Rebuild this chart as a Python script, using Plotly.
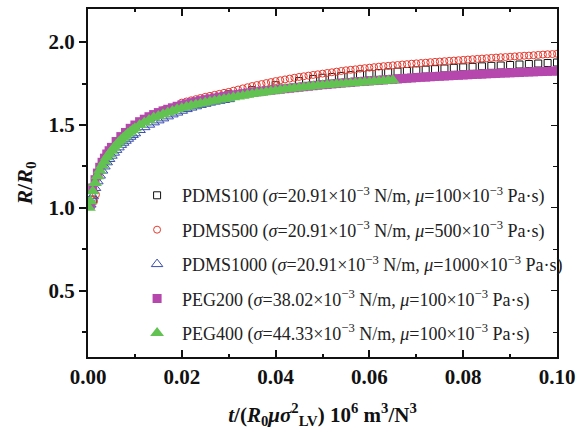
import plotly.graph_objects as go

# ---------------- data ----------------
series_names = [
    "PDMS100 (<i>σ</i>=20.91×10<sup>−3</sup> N/m, <i>μ</i>=100×10<sup>−3</sup> Pa·s)",
    "PDMS500 (<i>σ</i>=20.91×10<sup>−3</sup> N/m, <i>μ</i>=500×10<sup>−3</sup> Pa·s)",
    "PDMS1000 (<i>σ</i>=20.91×10<sup>−3</sup> N/m, <i>μ</i>=1000×10<sup>−3</sup> Pa·s)",
    "PEG200 (<i>σ</i>=38.02×10<sup>−3</sup> N/m, <i>μ</i>=100×10<sup>−3</sup> Pa·s)",
    "PEG400 (<i>σ</i>=44.33×10<sup>−3</sup> N/m, <i>μ</i>=100×10<sup>−3</sup> Pa·s)",
]

pdms100_t = [0.001, 0.003, 0.006, 0.010, 0.015, 0.020, 0.025, 0.030, 0.035, 0.040, 0.045,
             0.048, 0.050, 0.052, 0.054, 0.056, 0.058, 0.060, 0.062, 0.064, 0.066, 0.068,
             0.070, 0.072, 0.074, 0.076, 0.078, 0.080, 0.082, 0.084, 0.086, 0.088, 0.090,
             0.092, 0.094, 0.096, 0.098, 0.100]
pdms100_r = [1.05, 1.27, 1.40, 1.49, 1.56, 1.61, 1.65, 1.685, 1.71, 1.74, 1.765,
             1.778, 1.785, 1.790, 1.796, 1.801, 1.806, 1.810, 1.814, 1.818, 1.822, 1.826,
             1.830, 1.834, 1.837, 1.841, 1.845, 1.848, 1.851, 1.854, 1.857, 1.859, 1.862,
             1.865, 1.868, 1.871, 1.874, 1.877]

pdms500_t = [0.0013, 0.0017, 0.0023, 0.004, 0.007, 0.010, 0.013, 0.016,
             0.020, 0.021, 0.022, 0.023, 0.024, 0.025, 0.026, 0.027, 0.028, 0.029,
             0.030, 0.031, 0.032, 0.033, 0.034, 0.035, 0.036, 0.037, 0.038, 0.039,
             0.040, 0.041, 0.042, 0.043, 0.044, 0.045, 0.046, 0.047, 0.048, 0.049,
             0.050, 0.051, 0.052, 0.053, 0.054, 0.055, 0.056, 0.057, 0.058, 0.059,
             0.060, 0.061, 0.062, 0.063, 0.064, 0.065, 0.066, 0.067, 0.068, 0.069,
             0.070, 0.071, 0.072, 0.073, 0.074, 0.075, 0.076, 0.077, 0.078, 0.079,
             0.080, 0.081, 0.082, 0.083, 0.084, 0.085, 0.086, 0.087, 0.088, 0.089,
             0.090, 0.091, 0.092, 0.093, 0.094, 0.095, 0.096, 0.097, 0.098, 0.099, 0.100]
pdms500_r = [1.04, 1.08, 1.19, 1.33, 1.43, 1.50, 1.55, 1.59,
             1.635, 1.642, 1.649, 1.656, 1.663, 1.670, 1.676, 1.682, 1.688, 1.694,
             1.700, 1.707, 1.714, 1.721, 1.728, 1.735, 1.741, 1.747, 1.753, 1.759,
             1.765, 1.770, 1.775, 1.780, 1.785, 1.790, 1.794, 1.798, 1.802, 1.806,
             1.810, 1.814, 1.818, 1.822, 1.826, 1.830, 1.833, 1.836, 1.840, 1.843,
             1.846, 1.849, 1.852, 1.855, 1.857, 1.860, 1.862, 1.865, 1.867, 1.870,
             1.872, 1.874, 1.876, 1.879, 1.881, 1.883, 1.885, 1.887, 1.889, 1.891,
             1.893, 1.895, 1.897, 1.899, 1.901, 1.903, 1.905, 1.907, 1.909, 1.910,
             1.912, 1.914, 1.916, 1.918, 1.919, 1.921, 1.923, 1.925, 1.927, 1.928, 1.930]

pdms1000_t = [0.0005, 0.001, 0.0015, 0.002, 0.0025, 0.003, 0.0035, 0.004, 0.0045, 0.005,
              0.0055, 0.006, 0.0065, 0.007, 0.0075, 0.008, 0.0085, 0.009, 0.0095, 0.010,
              0.011, 0.012, 0.013, 0.014, 0.015, 0.016, 0.017, 0.018, 0.019, 0.020,
              0.021, 0.022, 0.023, 0.024, 0.025, 0.026, 0.027, 0.028, 0.029, 0.030]
pdms1000_r = [1.02, 1.07, 1.12, 1.16, 1.195, 1.225, 1.25, 1.275, 1.295, 1.315,
              1.333, 1.35, 1.365, 1.38, 1.393, 1.405, 1.417, 1.429, 1.44, 1.45,
              1.47, 1.487, 1.502, 1.516, 1.528, 1.54, 1.552, 1.564, 1.575, 1.586,
              1.596, 1.605, 1.613, 1.621, 1.628, 1.635, 1.641, 1.646, 1.651, 1.656]

peg200_t = [0.0005, 0.001, 0.0015, 0.002, 0.0025, 0.003, 0.0035, 0.004, 0.0045, 0.005,
            0.006, 0.007, 0.008, 0.009, 0.010, 0.011, 0.012, 0.013, 0.014, 0.015,
            0.016, 0.017, 0.018, 0.019, 0.020, 0.021, 0.022, 0.023, 0.024, 0.025,
            0.026, 0.027, 0.028, 0.029, 0.030, 0.031, 0.032, 0.033, 0.034, 0.035,
            0.036, 0.037, 0.038, 0.039, 0.040, 0.041, 0.042, 0.043, 0.044, 0.045,
            0.046, 0.047, 0.048, 0.049, 0.050, 0.051, 0.052, 0.053, 0.054, 0.055,
            0.056, 0.057, 0.058, 0.059, 0.060, 0.061, 0.062, 0.063, 0.064, 0.065,
            0.066, 0.067, 0.068, 0.069, 0.070, 0.071, 0.072, 0.073, 0.074, 0.075,
            0.076, 0.077, 0.078, 0.079, 0.080, 0.081, 0.082, 0.083, 0.084, 0.085,
            0.086, 0.087, 0.088, 0.089, 0.090, 0.091, 0.092, 0.093, 0.094, 0.095,
            0.096, 0.097, 0.098, 0.099, 0.100]
peg200_r = [1.02, 1.12, 1.17, 1.21, 1.245, 1.275, 1.30, 1.325, 1.345, 1.365,
            1.40, 1.43, 1.455, 1.48, 1.50, 1.52, 1.535, 1.55, 1.563, 1.575,
            1.585, 1.595, 1.604, 1.613, 1.621, 1.628, 1.635, 1.641, 1.647, 1.653,
            1.658, 1.663, 1.668, 1.673, 1.677, 1.681, 1.685, 1.689, 1.693, 1.697,
            1.700, 1.704, 1.707, 1.710, 1.713, 1.716, 1.719, 1.722, 1.725, 1.728,
            1.731, 1.734, 1.737, 1.740, 1.743, 1.745, 1.748, 1.750, 1.753, 1.755,
            1.757, 1.760, 1.762, 1.764, 1.766, 1.768, 1.770, 1.772, 1.774, 1.776,
            1.778, 1.780, 1.782, 1.784, 1.786, 1.788, 1.789, 1.791, 1.793, 1.794,
            1.796, 1.797, 1.799, 1.800, 1.802, 1.803, 1.805, 1.806, 1.807, 1.809,
            1.810, 1.811, 1.813, 1.814, 1.815, 1.816, 1.817, 1.819, 1.820, 1.821,
            1.822, 1.823, 1.824, 1.825, 1.826]

peg400_t = [0.0002, 0.0005, 0.001, 0.0015, 0.002, 0.0025, 0.003, 0.0035, 0.004, 0.0045,
            0.005, 0.0055, 0.006, 0.0065, 0.007, 0.0075, 0.008, 0.0085, 0.009, 0.0095,
            0.010, 0.011, 0.012, 0.013, 0.014,
            0.015, 0.016, 0.017, 0.018, 0.019, 0.020, 0.021, 0.022, 0.023, 0.024,
            0.025, 0.026, 0.027, 0.028, 0.029, 0.030, 0.031, 0.032, 0.033, 0.034,
            0.035, 0.036, 0.037, 0.038, 0.039, 0.040, 0.041, 0.042, 0.043, 0.044,
            0.045, 0.046, 0.047, 0.048, 0.049, 0.050, 0.051, 0.052, 0.053, 0.054,
            0.055, 0.056, 0.057, 0.058, 0.059, 0.060, 0.061, 0.062, 0.063, 0.064, 0.065]
peg400_r = [1.00, 1.04, 1.10, 1.15, 1.19, 1.225, 1.255, 1.28, 1.305, 1.325,
            1.345, 1.363, 1.38, 1.396, 1.41, 1.423, 1.435, 1.448, 1.46, 1.47,
            1.48, 1.50, 1.515, 1.53, 1.545,
            1.555, 1.565, 1.575, 1.585, 1.595, 1.603, 1.610, 1.617, 1.624, 1.630,
            1.636, 1.642, 1.647, 1.652, 1.657, 1.662, 1.667, 1.672, 1.677, 1.682,
            1.687, 1.691, 1.695, 1.699, 1.703, 1.707, 1.711, 1.715, 1.719, 1.722,
            1.725, 1.728, 1.731, 1.734, 1.737, 1.740, 1.742, 1.744, 1.746, 1.748,
            1.750, 1.752, 1.754, 1.756, 1.758, 1.760, 1.762, 1.764, 1.766, 1.768, 1.770]

x_tick_vals = [0.00, 0.02, 0.04, 0.06, 0.08, 0.10]
y_tick_vals = [0.5, 1.0, 1.5, 2.0]

# ---------------- figure ----------------
FONT = "Liberation Serif"
INK = "#111111"
fig = go.Figure()

styles = [
    dict(symbol="square-open", size=7, color=INK, line=dict(width=1, color=INK)),
    dict(symbol="circle-open", size=7, color="#e53a2f", line=dict(width=1, color="#e53a2f")),
    dict(symbol="triangle-up-open", size=10, color="#3b4cb0", line=dict(width=1, color="#3b4cb0")),
    dict(symbol="square", size=9, color="#b547ad", line=dict(width=0)),
    dict(symbol="triangle-up", size=12, color="#62c252", line=dict(width=0)),
]
data = [(pdms100_t, pdms100_r), (pdms500_t, pdms500_r), (pdms1000_t, pdms1000_r),
        (peg200_t, peg200_r), (peg400_t, peg400_r)]

for i, ((tx, ry), name, st) in enumerate(zip(data, series_names, styles)):
    fig.add_trace(go.Scatter(x=tx, y=ry, mode="markers", name=name, marker=st,
                             legendgroup=f"g{i}", cliponaxis=True))

# invisible helper trace to carry the right-hand (inside-tick) axis
fig.add_trace(go.Scatter(x=[0.05], y=[1.0], yaxis="y2", mode="markers",
                         marker=dict(opacity=0), showlegend=False, hoverinfo="skip"))

fig.update_layout(
    template="none",
    width=579, height=429,
    margin=dict(l=88, r=22, t=9, b=72, autoexpand=False),
    paper_bgcolor="white", plot_bgcolor="white",
    font=dict(family=FONT, color=INK),
    showlegend=True,
    legend=dict(x=0.094, y=0.517, xanchor="left", yanchor="top",
                font=dict(family=FONT, size=18, color="#222222"),
                bgcolor="rgba(0,0,0,0)", borderwidth=0,
                traceorder="grouped", tracegroupgap=8, itemwidth=40),
    xaxis=dict(range=[0, 0.1], tickvals=x_tick_vals, tickformat=".2f", automargin=False,
               ticks="inside", ticklen=7, tickwidth=1.5, tickcolor=INK,
               minor=dict(dtick=0.01, tick0=0, ticks="inside", ticklen=3, tickcolor=INK, showgrid=False),
               showline=True, linecolor=INK, linewidth=2, mirror="ticks",
               showgrid=False, zeroline=False,
               tickfont=dict(family=FONT, size=21, color=INK, weight="bold"),
               title=dict(text="<b><i>t</i>/(<i>R</i><sub>0</sub><i>μσ</i><sup>2</sup><sub>LV</sub>) 10<sup>6</sup> m<sup>3</sup>/N<sup>3</sup></b>",
                          font=dict(family=FONT, size=21, color=INK), standoff=21)),
    yaxis=dict(range=[0.1, 2.2], tickvals=y_tick_vals, tickformat=".1f", automargin=False,
               ticks="outside", ticklen=7, tickwidth=1.5, tickcolor=INK,
               minor=dict(dtick=0.25, tick0=0, ticks="outside", ticklen=4, tickcolor=INK, showgrid=False),
               showline=True, linecolor=INK, linewidth=2, mirror=True,
               showgrid=False, zeroline=False,
               tickfont=dict(family=FONT, size=21, color=INK, weight="bold"),
               title=dict(text="<b><i>R</i>/<i>R</i><sub>0</sub></b>",
                          font=dict(family=FONT, size=22, color=INK), standoff=10)),
    yaxis2=dict(overlaying="y", side="right", range=[0.1, 2.2], tickvals=y_tick_vals,
                automargin=False, showticklabels=False, ticks="inside", ticklen=6, tickcolor=INK,
                minor=dict(dtick=0.25, tick0=0, ticks="inside", ticklen=4, tickcolor=INK, showgrid=False),
                showline=False, showgrid=False, zeroline=False),
)

fig.write_html("out.html", config={"displayModeBar": False},
               post_script="document.body.style.margin='0';")
